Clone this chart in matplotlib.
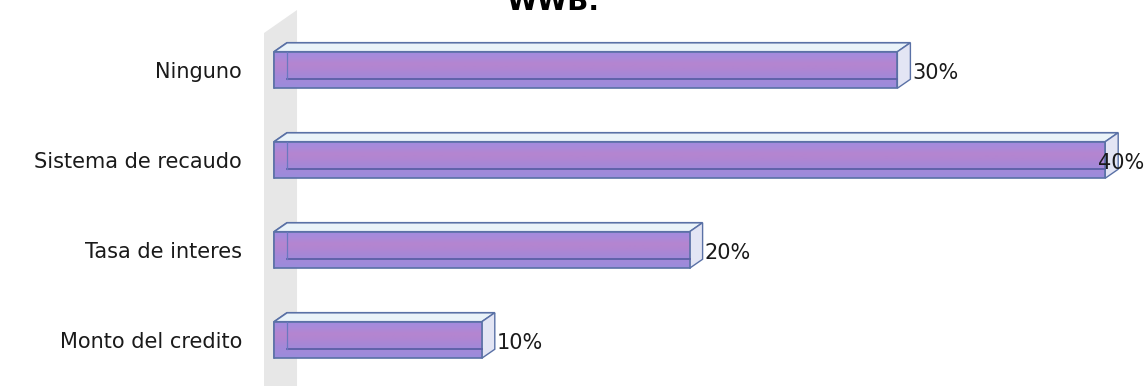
import matplotlib
matplotlib.use("Agg")
import matplotlib.pyplot as plt
import numpy as np
from matplotlib.patches import Polygon
from matplotlib.colors import LinearSegmentedColormap

# Data
categories = ["Monto del credito", "Tasa de interes", "Sistema de recaudo", "Ninguno"]
values = [10, 20, 40, 30]
value_labels = ["10%", "20%", "40%", "30%"]
title = "WWB."

W, H = 1146, 386
fig = plt.figure(figsize=(W / 100, H / 100), dpi=100)
fig.patch.set_facecolor("white")

# pixel geometry helpers
x0_px, px_per_unit = 274, 20.78
row_px = 90.0
ax_left_px = 255
ax = fig.add_axes([ax_left_px / W, 0, (W - ax_left_px) / W, 1])
ax.set_facecolor("none")
for s in ax.spines.values():
    s.set_visible(False)

dx = 13 / px_per_unit
dy = 9 / row_px
h = 36.5 / row_px

# vertical shading of the bar fronts (bottom -> top)
front_cmap = LinearSegmentedColormap.from_list(
    "front", ["#9b8cdc", "#a08ada", "#a488d8", "#b085d2", "#b585d0", "#a98ada", "#a18be0"])
grad = np.linspace(0, 1, 64).reshape(-1, 1)

# side wall
wall = Polygon([(-0.48, -1), (-0.48, 3 + 37 / row_px), (1.107, 3 + 60 / row_px), (1.107, -1)],
               closed=True, facecolor="#e7e7e7", edgecolor="none", zorder=0)
ax.add_patch(wall)

edge = "#5a71a6"
for i, v in enumerate(values):
    yb, yt = i - h / 2, i + h / 2
    # back-left face
    ax.add_patch(Polygon([(0, yb), (dx, yb + dy), (dx, yt + dy), (0, yt)],
                         facecolor="#9c86da", edgecolor=edge, lw=1.0, zorder=2))
    # top face
    ax.add_patch(Polygon([(0, yt), (v, yt), (v + dx, yt + dy), (dx, yt + dy)],
                         facecolor="#eaf3f9", edgecolor=edge, lw=1.2, zorder=2))
    # end face
    ax.add_patch(Polygon([(v, yb), (v + dx, yb + dy), (v + dx, yt + dy), (v, yt)],
                         facecolor="#e3e5f4", edgecolor=edge, lw=1.0, zorder=2))
    # front face with shading
    front = Polygon([(0, yb), (v, yb), (v, yt), (0, yt)],
                    facecolor="none", edgecolor=edge, lw=1.2, zorder=4)
    ax.add_patch(front)
    im = ax.imshow(grad, cmap=front_cmap, extent=(0, v, yb, yt), origin="lower",
                   aspect="auto", interpolation="bilinear", zorder=3)
    im.set_clip_path(front)
    # hidden back edges seen through the bar
    ax.plot([dx, v], [yb + dy, yb + dy], color="#5b5fa6", lw=1.3, zorder=4)
    ax.plot([dx, dx], [yb + dy, yt], color="#6a78c0", lw=0.9, zorder=4)
    # value label
    xl = min(v + 15 / px_per_unit, (W - x0_px) / px_per_unit - 2.3)
    ax.text(xl, i - 3 / row_px, value_labels[i], ha="left", va="center",
            fontsize=15, color="#1a1a1a", zorder=5)

ax.set_xlim((ax_left_px - x0_px) / px_per_unit, (W - x0_px) / px_per_unit)
ax.set_ylim(-(H - 340) / row_px, 3 + 70 / row_px)
ax.set_yticks(range(len(categories)))
ax.set_yticklabels(categories, fontsize=15, color="#1a1a1a")
ax.tick_params(axis="y", length=0, pad=(ax_left_px - 242) * 0.72)
ax.set_xticks([])

fig.text(553 / W, 1 - 10 / H, title, ha="center", va="baseline",
         fontsize=20, fontweight="bold", color="black")

fig.savefig("out.png", dpi=100, facecolor="white")
